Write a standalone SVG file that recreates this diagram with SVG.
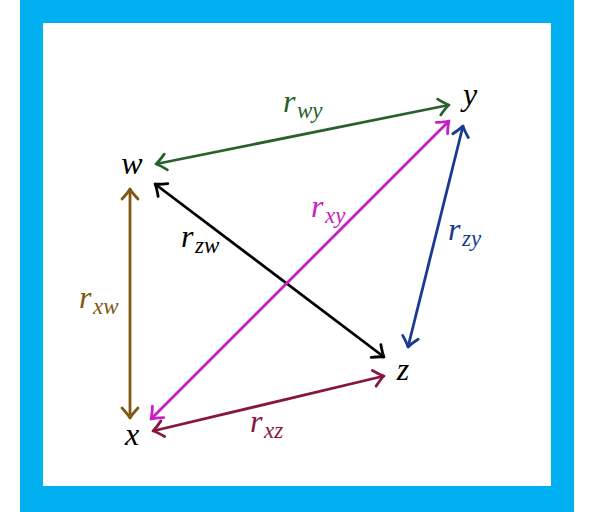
<svg xmlns="http://www.w3.org/2000/svg" width="590" height="512" viewBox="0 0 590 512">
<style>
.lbl{font-family:"Liberation Serif",serif;font-style:italic;font-size:32px}
.sub{font-size:23px}
.ln{fill:none;stroke-width:2.8}
.hd{fill:none;stroke-width:2.8;stroke-linecap:round;stroke-linejoin:round}
</style>
<defs>
<marker id="mG" viewBox="-13 -10 15 20" markerUnits="userSpaceOnUse" markerWidth="15" markerHeight="20" refX="0" refY="0" orient="auto-start-reverse"><path class="hd" stroke="#2A6129" d="M-10,-8 Q-3,-1.5 0,0 Q-3,1.5 -10,8"/></marker>
<marker id="mK" viewBox="-13 -10 15 20" markerUnits="userSpaceOnUse" markerWidth="15" markerHeight="20" refX="0" refY="0" orient="auto-start-reverse"><path class="hd" stroke="#000000" d="M-10,-8 Q-3,-1.5 0,0 Q-3,1.5 -10,8"/></marker>
<marker id="mB" viewBox="-13 -10 15 20" markerUnits="userSpaceOnUse" markerWidth="15" markerHeight="20" refX="0" refY="0" orient="auto-start-reverse"><path class="hd" stroke="#7E5A14" d="M-10,-8 Q-3,-1.5 0,0 Q-3,1.5 -10,8"/></marker>
<marker id="mM" viewBox="-13 -10 15 20" markerUnits="userSpaceOnUse" markerWidth="15" markerHeight="20" refX="0" refY="0" orient="auto-start-reverse"><path class="hd" stroke="#C620C6" d="M-10,-8 Q-3,-1.5 0,0 Q-3,1.5 -10,8"/></marker>
<marker id="mU" viewBox="-13 -10 15 20" markerUnits="userSpaceOnUse" markerWidth="15" markerHeight="20" refX="0" refY="0" orient="auto-start-reverse"><path class="hd" stroke="#1A3A92" d="M-10,-8 Q-3,-1.5 0,0 Q-3,1.5 -10,8"/></marker>
<marker id="mR" viewBox="-13 -10 15 20" markerUnits="userSpaceOnUse" markerWidth="15" markerHeight="20" refX="0" refY="0" orient="auto-start-reverse"><path class="hd" stroke="#861641" d="M-10,-8 Q-3,-1.5 0,0 Q-3,1.5 -10,8"/></marker>
</defs>
<rect x="20" y="0" width="554" height="512" fill="#00B0F0"/>
<rect x="43" y="23" width="508" height="463" fill="#FFFFFF"/>
<g id="connectors">
<line class="ln" stroke="#2A6129" x1="156" y1="164" x2="449" y2="105" marker-start="url(#mG)" marker-end="url(#mG)"/>
<line class="ln" stroke="#000000" x1="155" y1="184" x2="384" y2="357" marker-start="url(#mK)" marker-end="url(#mK)"/>
<line class="ln" stroke="#7E5A14" x1="130" y1="189" x2="130" y2="418" marker-start="url(#mB)" marker-end="url(#mB)"/>
<line class="ln" stroke="#C620C6" x1="151" y1="419" x2="449" y2="121" marker-start="url(#mM)" marker-end="url(#mM)"/>
<line class="ln" stroke="#1A3A92" x1="463" y1="126" x2="408" y2="347" marker-start="url(#mU)" marker-end="url(#mU)"/>
<line class="ln" stroke="#861641" x1="153" y1="431" x2="384" y2="376" marker-start="url(#mR)" marker-end="url(#mR)"/>
<text class="lbl" fill="#2A6129" x="283" y="112">r<tspan class="sub" x="297" y="118">wy</tspan></text>
<text class="lbl" fill="#000000" x="181" y="247">r<tspan class="sub" x="195" y="253">zw</tspan></text>
<text class="lbl" fill="#7E5A14" x="79" y="308">r<tspan class="sub" x="93" y="314">xw</tspan></text>
<text class="lbl" fill="#C620C6" x="311" y="217">r<tspan class="sub" x="325" y="223">xy</tspan></text>
<text class="lbl" fill="#1A3A92" x="448" y="240">r<tspan class="sub" x="462" y="246">zy</tspan></text>
<text class="lbl" fill="#861641" x="250" y="432">r<tspan class="sub" x="264" y="438">xz</tspan></text>
</g>
<g id="node-w"><text class="lbl" x="132" y="174" text-anchor="middle">w</text></g>
<g id="node-y"><text class="lbl" x="470" y="105" text-anchor="middle">y</text></g>
<g id="node-z"><text class="lbl" x="403" y="380" text-anchor="middle">z</text></g>
<g id="node-x"><text class="lbl" x="132" y="445" text-anchor="middle">x</text></g>
</svg>
